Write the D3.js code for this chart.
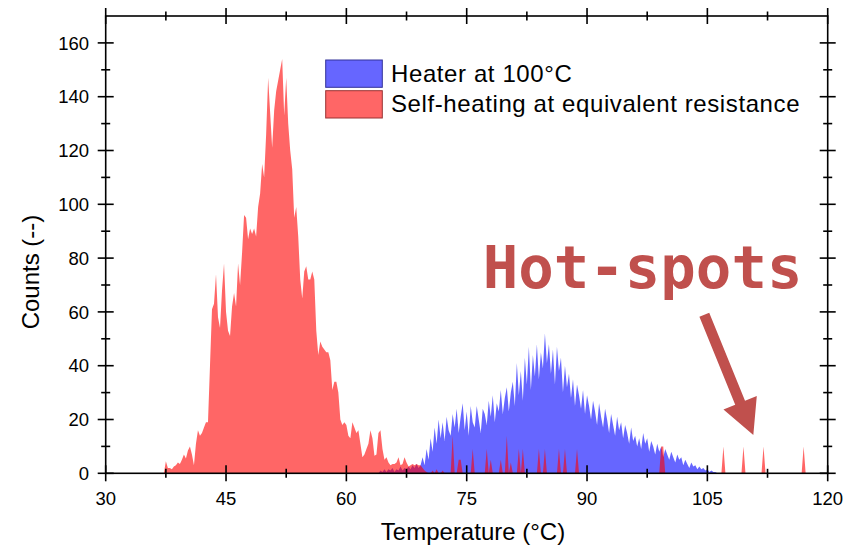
<!DOCTYPE html>
<html>
<head>
<meta charset="utf-8">
<script src="https://cdn.jsdelivr.net/npm/d3@7"></script>
<style>
  html, body { margin: 0; padding: 0; background: #fff; }
  svg { display: block; }
</style>
</head>
<body>
<svg id="chart" width="859" height="546"></svg>
<script>
// ---------------- DATA ----------------
const xTickLabels = [30, 45, 60, 75, 90, 105, 120];
const yTickLabels = [0, 20, 40, 60, 80, 100, 120, 140, 160];
const seriesNames = ["Heater at 100°C", "Self-heating at equivalent resistance"];
const binWidth = 0.25;

// Heater at 100°C : counts per 0.25 °C bin, starting at 64.0 °C
const heaterStart = 64.0;
const heaterCounts = [
  0, 1, 0.5, 1.5, 0.5, 1.5, 1, 2, 0.5, 1.5, 1, 2.5, 1, 2, 1.5, 2.5,
  1.5, 3, 2, 3.5, 2, 3, 6, 3, 9, 5, 13, 8, 17, 11, 20, 13,
  19, 12, 21, 16, 14, 22, 17, 24, 15, 21, 26, 16, 23, 14, 25, 19,
  17, 25, 20, 15, 24, 22, 18, 27, 21, 29, 19, 26, 23, 31, 22, 28,
  32, 23, 30, 34, 25, 41, 29, 38, 27, 43, 33, 47, 31, 44, 36, 48,
  35, 45, 39, 52, 41, 48, 37, 46, 33, 47, 38, 43, 30, 40, 32, 37,
  28, 35, 25, 33, 29, 24, 31, 22, 29, 25, 20, 27, 23, 18, 26, 21,
  17, 24, 20, 15, 22, 18, 14, 21, 16, 19, 13, 18, 15, 11, 17, 12,
  14, 10, 13, 9, 15, 11, 13, 8, 12, 10, 7, 11, 8, 10, 6, 9,
  7, 5, 8, 6, 4, 7, 5, 6, 3, 5, 3.5, 2, 4, 2.5, 3, 1.5,
  2.5, 1.5, 2, 1, 1.5, 0.5, 1, 0.5, 0.5, 0
];

// Self-heating : main distribution, counts per 0.25 °C bin, starting at 37.25 °C
const selfStart = 37.25;
const selfCounts = [
  0, 4.5, 2, 2, 1.5, 2.5, 3, 4, 3.5, 5, 7, 5.5, 8.5, 10, 7, 3,
  11, 16, 14, 15, 17, 19, 19, 40, 61, 63, 74, 58, 54, 68, 78, 60,
  53, 51, 62, 67, 62, 78, 70, 82, 96, 95, 87, 91, 89, 91, 88, 99,
  104, 115, 110, 126, 147, 134, 121, 135, 142, 146, 150, 154, 133, 147, 130, 120,
  113, 95, 99, 88, 72, 65, 75, 77, 72, 72, 75, 72, 53, 44, 49, 47,
  46, 45, 45, 42, 31, 34, 34, 30, 20, 18, 19, 18, 14, 13, 19, 17,
  15, 16, 11, 6, 7, 9, 11, 16, 13, 6.5, 7, 15, 16, 9, 5, 6,
  4, 3, 3.5, 3.5, 4, 6, 3, 3.5, 6, 4, 2.5, 3, 3.5, 3, 3.5, 3,
  3, 2, 1, 0.5
];
// Self-heating : isolated single bins (incl. hot-spots)
const selfSpikeTemps  = [70.75, 71.25, 72.0, 73.25, 74.0, 74.25, 75.75, 77.5, 78.0, 79.25, 80.0, 80.5, 81.5, 82.0, 84.0, 84.75, 86.5, 87.25, 88.75, 99.25, 99.5, 107.0, 109.5, 112.0, 117.0];
const selfSpikeCounts = [1,     1.5,   1,    14,    5,    5,     9,     9,    5,    5,     14,   4,    9,    9,    9,    9,     9,    9,     9,     10,    10,   10,    10,    10,    10];

// annotation anchors (data units)
const hotLabel = { text: "Hot-spots", t: 77.0, c: 68.8 };
const hotArrow = { fromT: 104.62, fromC: 58.9, toT: 110.73, toC: 14.2 };

// ---------------- CHART ----------------
const svg = d3.select("#chart");
const SANS = "'Liberation Sans', Arial, sans-serif";
const x = d3.scaleLinear().domain([30, 120]).range([105.7, 827.7]);
const y = d3.scaleLinear().domain([0, 170]).range([473.3, 16]);

const heaterData = heaterCounts.map((c, i) => ({ t: heaterStart + i * binWidth, c }));

// self-heating on a full grid
const gStart = 37.0, gEnd = 118.5;
const nGrid = Math.round((gEnd - gStart) / binWidth) + 1;
const selfGrid = new Array(nGrid).fill(0);
selfCounts.forEach((c, i) => { selfGrid[Math.round((selfStart + i * binWidth - gStart) / binWidth)] = c; });
selfSpikeTemps.forEach((t, i) => { selfGrid[Math.round((t - gStart) / binWidth)] = selfSpikeCounts[i]; });
const selfData = selfGrid.map((c, i) => ({ t: gStart + i * binWidth, c }));

const area = d3.area().x(d => x(d.t)).y0(y(0)).y1(d => y(d.c));

svg.append("path").datum(heaterData).attr("d", area)
  .attr("fill", "rgb(0,0,255)").attr("fill-opacity", 0.6);
svg.append("path").datum(selfData).attr("d", area)
  .attr("fill", "rgb(255,0,0)").attr("fill-opacity", 0.6);

// frame
const X0 = x(30), X1 = x(120), Y0 = y(0), Y1 = y(170);
const ax = svg.append("g").attr("stroke", "#000").attr("stroke-width", 1.6).attr("fill", "none");
ax.append("rect").attr("x", X0).attr("y", Y1).attr("width", X1 - X0).attr("height", Y0 - Y1);

const major = 8, minor = 4.5;
const xMinor = d3.range(37.5, 120, 15);
const yMinor = d3.range(10, 170, 20);
xTickLabels.forEach(v => {
  [Y0, Y1].forEach(yy => ax.append("line").attr("x1", x(v)).attr("x2", x(v)).attr("y1", yy - major).attr("y2", yy + major));
});
xMinor.forEach(v => {
  [Y0, Y1].forEach(yy => ax.append("line").attr("x1", x(v)).attr("x2", x(v)).attr("y1", yy - minor).attr("y2", yy + minor));
});
yTickLabels.forEach(v => {
  [X0, X1].forEach(xx => ax.append("line").attr("y1", y(v)).attr("y2", y(v)).attr("x1", xx - major).attr("x2", xx + major));
});
yMinor.forEach(v => {
  [X0, X1].forEach(xx => ax.append("line").attr("y1", y(v)).attr("y2", y(v)).attr("x1", xx - minor).attr("x2", xx + minor));
});

// tick labels
svg.append("g").selectAll("text").data(xTickLabels).join("text")
  .attr("x", d => x(d)).attr("y", 505).attr("text-anchor", "middle")
  .style("font-family", SANS).attr("font-size", 18.5).text(d => d);
svg.append("g").selectAll("text").data(yTickLabels).join("text")
  .attr("x", 89).attr("y", d => y(d) + 6.6).attr("text-anchor", "end")
  .style("font-family", SANS).attr("font-size", 18.5).text(d => d);

// axis titles
svg.append("text").attr("x", 473).attr("y", 540).attr("text-anchor", "middle")
  .style("font-family", SANS).attr("font-size", 24).text("Temperature (°C)");
svg.append("text").attr("transform", "translate(39,272) rotate(-90)").attr("text-anchor", "middle")
  .style("font-family", SANS).attr("font-size", 24).text("Counts (--)");

// legend
const leg = svg.append("g");
const legFill = ["rgb(102,102,255)", "rgb(255,102,102)"];
const legStroke = ["#333399", "#993333"];
seriesNames.forEach((n, i) => {
  const top = 60 + i * 30.7;
  leg.append("rect").attr("x", 325.7).attr("y", top).attr("width", 56.6).attr("height", 27.3)
    .attr("fill", legFill[i]).attr("stroke", legStroke[i]).attr("stroke-width", 1);
  leg.append("text").attr("x", 391).attr("y", top + 21.7)
    .style("font-family", SANS).style("letter-spacing", "0.6px")
    .attr("font-size", 24).text(n);
});

// annotation
const hotColor = "#C0504D";
svg.append("text").attr("x", x(hotLabel.t)).attr("y", y(hotLabel.c))
  .style("font-family", "'DejaVu Sans Mono', monospace").style("font-weight", "bold")
  .attr("font-size", 59).style("fill", hotColor).text(hotLabel.text);

const ax0 = x(hotArrow.fromT), ay0 = y(hotArrow.fromC), ax1 = x(hotArrow.toT), ay1 = y(hotArrow.toC);
const dx = ax1 - ax0, dy = ay1 - ay0, L = Math.hypot(dx, dy);
const ux = dx / L, uy = dy / L, px = -uy, py = ux;
const headLen = 35, headHalf = 18, shaftHalf = 5.3;
const bx = ax1 - ux * headLen, by = ay1 - uy * headLen;
const pts = [
  [ax0 + px * shaftHalf, ay0 + py * shaftHalf],
  [bx + px * shaftHalf, by + py * shaftHalf],
  [bx + px * headHalf, by + py * headHalf],
  [ax1, ay1],
  [bx - px * headHalf, by - py * headHalf],
  [bx - px * shaftHalf, by - py * shaftHalf],
  [ax0 - px * shaftHalf, ay0 - py * shaftHalf]
];
svg.append("path").attr("d", "M" + pts.map(p => p.join(",")).join("L") + "Z").attr("fill", hotColor);
</script>
</body>
</html>
